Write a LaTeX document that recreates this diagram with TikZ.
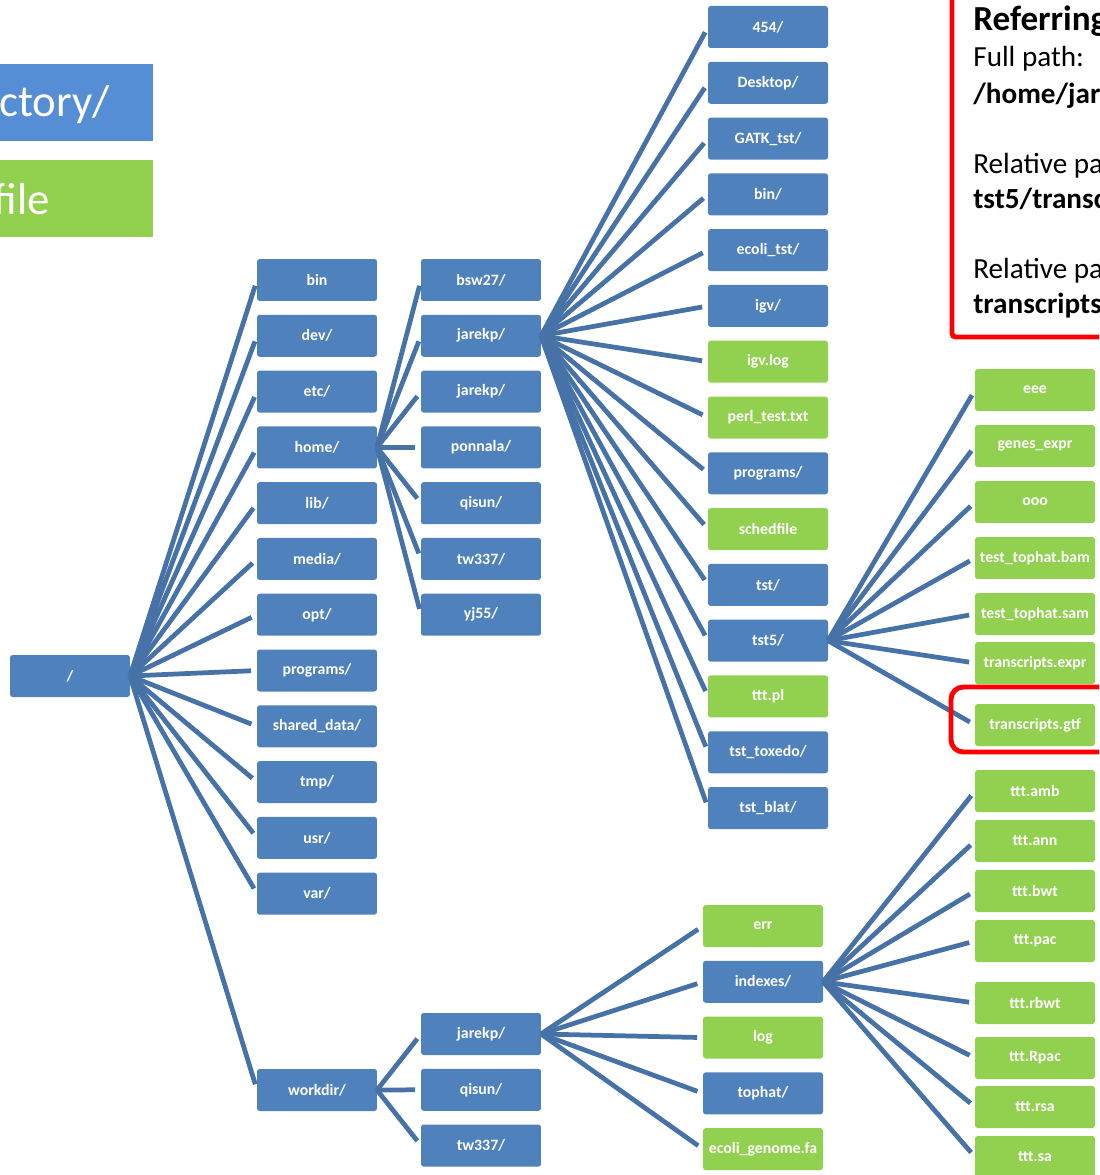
\documentclass[tikz,border=0pt]{standalone}
\usepackage{fontspec}
\setmainfont{Carlito}
\usetikzlibrary{positioning}
\definecolor{DirBlue}{RGB}{79,129,189}
\definecolor{LegendBlue}{RGB}{85,142,213}
\definecolor{FileGreen}{RGB}{146,208,80}
\definecolor{LinkBlue}{RGB}{70,114,167}

\begin{document}
\begin{tikzpicture}[
        x=0.02cm, y=-0.02cm,
        node distance=0.276cm,
        box/.style={rectangle, rounded corners=1.5pt, minimum width=2.4cm, minimum height=0.84cm, inner sep=1pt, outer sep=0pt, text=white, font=\fontsize{9}{10}\selectfont\bfseries},
        dirbox/.style={box, fill=DirBlue},
        filebox/.style={box, fill=FileGreen},
        branch/.style={draw=LinkBlue, line width=2.7pt, shorten >=3.4pt},
        legend/.style={text=white, inner sep=0pt, font=\fontsize{25.5}{28}\selectfont},
        callout/.style={anchor=base west, inner sep=0pt, font=\fontsize{16.6}{19}\selectfont},
        callbold/.style={callout, font=\fontsize{16.6}{19}\selectfont\bfseries}
    ]
        \useasboundingbox (0,0) rectangle (1099,1175);
        \clip (0,0) rectangle (1099,1175);

        % legend
        \fill [LegendBlue] (-20,64) rectangle (153,141);
        \fill [FileGreen] (-20,160) rectangle (153,237);
        \node [legend, anchor=base east] (legdir) at (110,117) {ctory/};
        \node [legend, anchor=base east] (legfile) at (50,215) {file};

        % root and first level
        \node [dirbox] (root) at (70,676) {/};
        \node [dirbox] (bin) at (317,280) {bin};
        \node [dirbox, below=of bin] (dev) {dev/};
        \node [dirbox, below=of dev] (etc) {etc/};
        \node [dirbox, below=of etc] (home) {home/};
        \node [dirbox, below=of home] (lib) {lib/};
        \node [dirbox, below=of lib] (media) {media/};
        \node [dirbox, below=of media] (opt) {opt/};
        \node [dirbox, below=of opt] (progs) {programs/};
        \node [dirbox, below=of progs] (shared) {shared\_data/};
        \node [dirbox, below=of shared] (tmp) {tmp/};
        \node [dirbox, below=of tmp] (usr) {usr/};
        \node [dirbox, below=of usr] (var) {var/};
        \node [dirbox] (workdir) at (317,1090) {workdir/};

        % users under home/
        \node [dirbox] (bsw) at (481,280) {bsw27/};
        \node [dirbox, below=of bsw] (jarekp) {jarekp/};
        \node [dirbox, below=of jarekp] (jarekpb) {jarekp/};
        \node [dirbox, below=of jarekpb] (ponnala) {ponnala/};
        \node [dirbox, below=of ponnala] (qisun) {qisun/};
        \node [dirbox, below=of qisun] (tw) {tw337/};
        \node [dirbox, below=of tw] (yj) {yj55/};

        % users under workdir/
        \node [dirbox] (wjarekp) at (481,1034) {jarekp/};
        \node [dirbox, below=of wjarekp] (wqisun) {qisun/};
        \node [dirbox, below=of wqisun] (wtw) {tw337/};

        % contents of /home/jarekp
        \node [dirbox] (d454) at (768,27) {454/};
        \node [dirbox, below=of d454] (desktop) {Desktop/};
        \node [dirbox, below=of desktop] (gatk) {GATK\_tst/};
        \node [dirbox, below=of gatk] (hbin) {bin/};
        \node [dirbox, below=of hbin] (ecoli) {ecoli\_tst/};
        \node [dirbox, below=of ecoli] (igv) {igv/};
        \node [filebox, below=of igv] (igvlog) {igv.log};
        \node [filebox, below=of igvlog] (perl) {perl\_test.txt};
        \node [dirbox, below=of perl] (hprogs) {programs/};
        \node [filebox, below=of hprogs] (sched) {schedfile};
        \node [dirbox, below=of sched] (tst) {tst/};
        \node [dirbox, below=of tst] (tstfive) {tst5/};
        \node [filebox, below=of tstfive] (tttpl) {ttt.pl};
        \node [dirbox, below=of tttpl] (toxedo) {tst\_toxedo/};
        \node [dirbox, below=of toxedo] (blat) {tst\_blat/};

        % contents of /workdir/jarekp
        \node [filebox] (err) at (763,926) {err};
        \node [dirbox, below=of err] (indexes) {indexes/};
        \node [filebox, below=of indexes] (log) {log};
        \node [dirbox, below=of log] (tophat) {tophat/};
        \node [filebox, below=of tophat] (genome) {ecoli\_genome.fa};

        % contents of tst5/
        \node [filebox] (eee) at (1035,390) {eee};
        \node [filebox] (genes) at (1035,446) {genes\_expr};
        \node [filebox] (ooo) at (1035,502) {ooo};
        \node [filebox] (bam) at (1035,558) {test\_tophat.bam};
        \node [filebox] (sam) at (1035,614) {test\_tophat.sam};
        \node [filebox] (expr) at (1035,663) {transcripts.expr};
        \node [filebox] (gtf) at (1035,725) {transcripts.gtf};

        % contents of indexes/
        \node [filebox] (amb) at (1035,791) {ttt.amb};
        \node [filebox] (ann) at (1035,841) {ttt.ann};
        \node [filebox] (bwt) at (1035,891) {ttt.bwt};
        \node [filebox] (pac) at (1035,941) {ttt.pac};
        \node [filebox] (rbwt) at (1035,1003) {ttt.rbwt};
        \node [filebox] (rpac) at (1035,1058) {ttt.Rpac};
        \node [filebox] (rsa) at (1035,1107) {ttt.rsa};
        \node [filebox] (sa) at (1035,1157) {ttt.sa};

        \path [branch] (root.east) -- (bin.west);
        \path [branch] (root.east) -- (dev.west);
        \path [branch] (root.east) -- (etc.west);
        \path [branch] (root.east) -- (home.west);
        \path [branch] (root.east) -- (lib.west);
        \path [branch] (root.east) -- (media.west);
        \path [branch] (root.east) -- (opt.west);
        \path [branch] (root.east) -- (progs.west);
        \path [branch] (root.east) -- (shared.west);
        \path [branch] (root.east) -- (tmp.west);
        \path [branch] (root.east) -- (usr.west);
        \path [branch] (root.east) -- (var.west);
        \path [branch] (root.east) -- (workdir.west);

        \path [branch] (home.east) -- (bsw.west);
        \path [branch] (home.east) -- (jarekp.west);
        \path [branch] (home.east) -- (jarekpb.west);
        \path [branch] (home.east) -- (ponnala.west);
        \path [branch] (home.east) -- (qisun.west);
        \path [branch] (home.east) -- (tw.west);
        \path [branch] (home.east) -- (yj.west);

        \path [branch] (workdir.east) -- (wjarekp.west);
        \path [branch] (workdir.east) -- (wqisun.west);
        \path [branch] (workdir.east) -- (wtw.west);

        \path [branch] (jarekp.east) -- (d454.west);
        \path [branch] (jarekp.east) -- (desktop.west);
        \path [branch] (jarekp.east) -- (gatk.west);
        \path [branch] (jarekp.east) -- (hbin.west);
        \path [branch] (jarekp.east) -- (ecoli.west);
        \path [branch] (jarekp.east) -- (igv.west);
        \path [branch] (jarekp.east) -- (igvlog.west);
        \path [branch] (jarekp.east) -- (perl.west);
        \path [branch] (jarekp.east) -- (hprogs.west);
        \path [branch] (jarekp.east) -- (sched.west);
        \path [branch] (jarekp.east) -- (tst.west);
        \path [branch] (jarekp.east) -- (tstfive.west);
        \path [branch] (jarekp.east) -- (tttpl.west);
        \path [branch] (jarekp.east) -- (toxedo.west);
        \path [branch] (jarekp.east) -- (blat.west);

        \path [branch] (wjarekp.east) -- (err.west);
        \path [branch] (wjarekp.east) -- (indexes.west);
        \path [branch] (wjarekp.east) -- (log.west);
        \path [branch] (wjarekp.east) -- (tophat.west);
        \path [branch] (wjarekp.east) -- (genome.west);

        \path [branch] (tstfive.east) -- (eee.west);
        \path [branch] (tstfive.east) -- (genes.west);
        \path [branch] (tstfive.east) -- (ooo.west);
        \path [branch] (tstfive.east) -- (bam.west);
        \path [branch] (tstfive.east) -- (sam.west);
        \path [branch] (tstfive.east) -- (expr.west);
        \path [branch] (tstfive.east) -- (gtf.west);

        \path [branch] (indexes.east) -- (amb.west);
        \path [branch] (indexes.east) -- (ann.west);
        \path [branch] (indexes.east) -- (bwt.west);
        \path [branch] (indexes.east) -- (pac.west);
        \path [branch] (indexes.east) -- (rbwt.west);
        \path [branch] (indexes.east) -- (rpac.west);
        \path [branch] (indexes.east) -- (rsa.west);
        \path [branch] (indexes.east) -- (sa.west);

        % highlight and note
        \draw [red, line width=2.8pt, rounded corners=7pt] (951,687) rectangle (1130,752);
        \draw [red, line width=2.8pt, rounded corners=2pt, fill=white] (952,-20) rectangle (1130,337);
        \node [callbold, font=\fontsize{20}{24}\selectfont\bfseries] (reftitle) at (973,31) {Referring};
        \node [callout] (fullhead) at (973,67) {Full path:};
        \node [callbold] (fullpath) at (973,104) {/home/jar};
        \node [callout] (relhead) at (973,174) {Relative pa};
        \node [callbold] (relpath) at (973,209) {tst5/transc};
        \node [callout] (relheadb) at (973,279) {Relative pa};
        \node [callbold] (relpathb) at (973,314) {transcripts};
    \end{tikzpicture}
\end{document}
